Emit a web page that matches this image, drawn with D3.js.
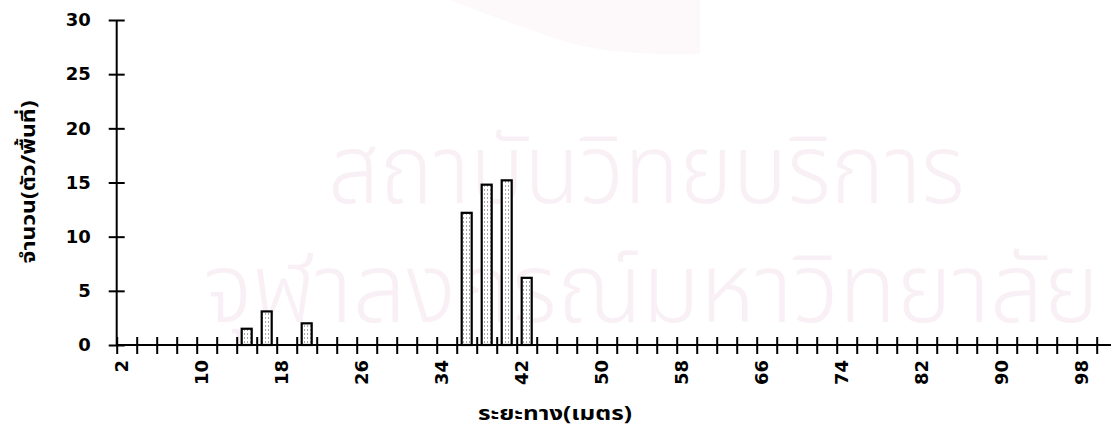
<!DOCTYPE html>
<html>
<head>
<meta charset="utf-8">
<script src="https://cdn.jsdelivr.net/npm/d3@7"></script>
<style>
  html, body { margin: 0; padding: 0; background: #fff; }
  svg { display: block; }
</style>
</head>
<body>
<svg id="chart" width="1111" height="445"></svg>
<script>
// Distance along the transect (m)
const distances = [2,4,6,8,10,12,14,16,18,20,22,24,26,28,30,32,34,36,38,40,
  42,44,46,48,50,52,54,56,58,60,62,64,66,68,70,72,74,76,78,80,
  82,84,86,88,90,92,94,96,98,100];
// Count per plot at each distance (only non-zero plots listed)
const countDistances = [14, 16, 20, 36, 38, 40, 42];
const countValues    = [1.5, 3.1, 2.0, 12.2, 14.8, 15.2, 6.2];
const yTicks = [0, 5, 10, 15, 20, 25, 30];
const xLabelEvery = 4;
const yTitle = "จำนวน(ตัว/พื้นที่)";
const xTitle = "ระยะทาง(เมตร)";
const wmLine1 = "สถาบันวิทยบริการ";
const wmLine2 = "จุฬาลงกรณ์มหาวิทยาลัย";

const counts = distances.map(d => {
  const i = countDistances.indexOf(d);
  return i < 0 ? 0 : countValues[i];
});

const svg = d3.select("#chart");
const thaiFont = "'Noto Sans Thai', 'Noto Sans Thai Looped', 'Loma', 'Garuda', 'Noto Sans', 'DejaVu Sans', sans-serif";
const numFont = "'DejaVu Sans', 'Liberation Sans', sans-serif";

// faint background emblem and institution wording
const wm = svg.append("g").attr("class", "watermark");
wm.append("path")
  .attr("d", "M440,0 L700,0 L700,54 Q610,56 560,40 Q490,16 450,0 Z")
  .attr("fill", "#fdf9fb");
wm.append("text")
  .attr("x", 328).attr("y", 203)
  .attr("textLength", 637).attr("lengthAdjust", "spacingAndGlyphs")
  .attr("font-family", thaiFont).attr("font-size", 96).attr("font-weight", 300)
  .attr("fill", "#f9f0f6").text(wmLine1);
wm.append("text")
  .attr("x", 203).attr("y", 322)
  .attr("textLength", 896).attr("lengthAdjust", "spacingAndGlyphs")
  .attr("font-family", thaiFont).attr("font-size", 96).attr("font-weight", 300)
  .attr("fill", "#f9f0f6").text(wmLine2);

const x0 = 116.7, step = 20;
const xPoint = d3.scalePoint().domain(distances).range([x0, x0 + step * (distances.length - 1)]);
const xBand = d3.scaleBand().domain(distances)
  .range([x0, x0 + step * distances.length])
  .paddingInner(0.5).paddingOuter(0.25);
const y = d3.scaleLinear().domain([0, 30]).range([345, 20]);

// bar fill: white with fine grey speckle
const defs = svg.append("defs");
const pat = defs.append("pattern").attr("id", "speckle")
  .attr("patternUnits", "userSpaceOnUse").attr("width", 3).attr("height", 4);
pat.append("rect").attr("width", 3).attr("height", 4).attr("fill", "#fff");
pat.append("rect").attr("x", 1).attr("y", 1).attr("width", 1).attr("height", 2).attr("fill", "#a8a8a8");

// bars
svg.append("g").selectAll("rect")
  .data(distances.filter((d, i) => counts[i] > 0))
  .join("rect")
  .attr("x", d => xBand(d))
  .attr("width", xBand.bandwidth())
  .attr("y", d => y(counts[distances.indexOf(d)]))
  .attr("height", d => y(0) - y(counts[distances.indexOf(d)]))
  .attr("fill", "url(#speckle)")
  .attr("stroke", "#000").attr("stroke-width", 2.2);

// y axis
const yAxis = svg.append("g")
  .attr("transform", `translate(${x0},0)`)
  .call(d3.axisLeft(y).tickValues(yTicks).tickSize(8).tickPadding(18));
yAxis.select(".domain").attr("stroke-width", 2).attr("d", `M0,${y(30)}V${y(0)}`);
yAxis.selectAll(".tick line").attr("x1", -8).attr("x2", 8).attr("stroke-width", 2);
yAxis.selectAll(".tick text")
  .attr("font-family", numFont).attr("font-size", 18).attr("font-weight", "bold")
  .attr("fill", "#000");

// x axis
const xAxis = svg.append("g")
  .attr("transform", `translate(0,${y(0)})`)
  .call(d3.axisBottom(xPoint).tickSize(8)
    .tickFormat((d, i) => i % xLabelEvery === 0 ? d : ""));
xAxis.select(".domain").attr("stroke-width", 2).attr("d", `M${x0},0H1111`);
xAxis.selectAll(".tick line").attr("y1", -8).attr("y2", 9).attr("stroke-width", 2);
xAxis.selectAll(".tick text")
  .attr("font-family", numFont).attr("font-size", 18).attr("font-weight", "bold")
  .attr("fill", "#000")
  .attr("text-anchor", "end")
  .attr("transform", "translate(4,15) rotate(-90)")
  .attr("x", 0).attr("y", 0).attr("dy", "0.35em");

// axis titles
svg.append("text")
  .attr("transform", "translate(28,182) rotate(-90)")
  .attr("text-anchor", "middle").attr("dy", "0.35em")
  .attr("textLength", 163).attr("lengthAdjust", "spacingAndGlyphs")
  .attr("font-family", thaiFont).attr("font-size", 20).attr("font-weight", "bold")
  .text(yTitle);
svg.append("text")
  .attr("x", 555).attr("y", 413)
  .attr("text-anchor", "middle").attr("dy", "0.35em")
  .attr("textLength", 154).attr("lengthAdjust", "spacingAndGlyphs")
  .attr("font-family", thaiFont).attr("font-size", 20).attr("font-weight", "bold")
  .text(xTitle);
</script>
</body>
</html>
